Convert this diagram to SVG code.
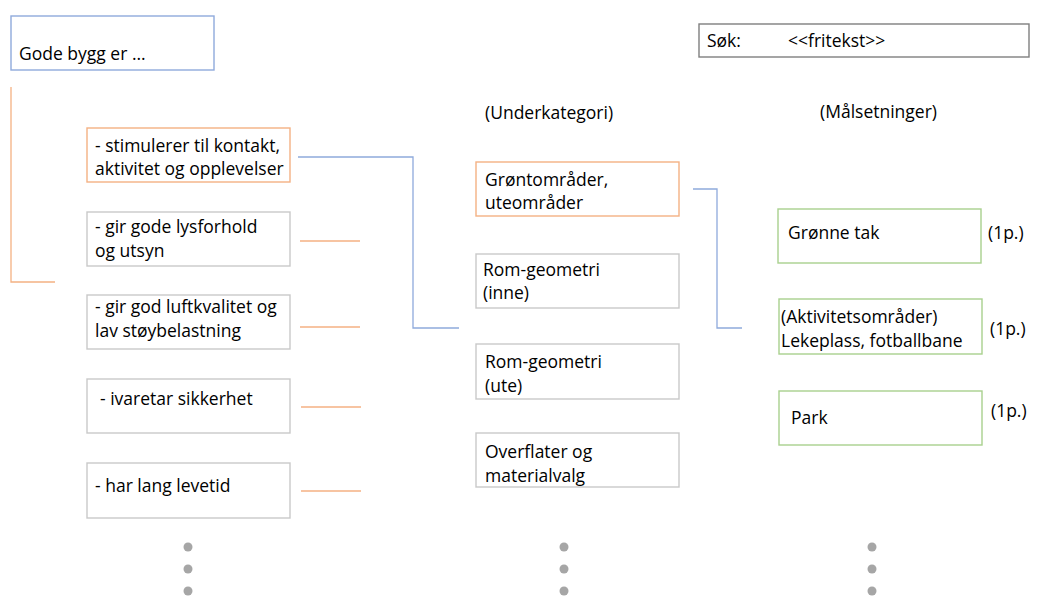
<svg xmlns="http://www.w3.org/2000/svg" width="1041" height="605" viewBox="0 0 1041 605">
<style>
text{font-family:"Open Sans","Noto Sans",sans-serif;font-size:17.5px;fill:#000;font-weight:500}
.box{fill:#fff;stroke:#c9c9c9;stroke-width:1.4}
.or{fill:#fff;stroke:#f4b183;stroke-width:1.4}
.bl{fill:#fff;stroke:#8faadc;stroke-width:1.4}
.gr{fill:#fff;stroke:#a9d18e;stroke-width:1.4}
.sr{fill:#fff;stroke:#7f7f7f;stroke-width:1.4}
.lo{fill:none;stroke:#f4b183;stroke-width:1.3}
.lb{fill:none;stroke:#8faadc;stroke-width:1.3}
.dot{fill:#a6a6a6}
</style>
<rect width="1041" height="605" fill="#fff"/>
<g id="connectors">
<path class="lo" d="M11,87 V282 H55"/>
<path class="lb" d="M298,157 H413 V328 H459"/>
<path class="lo" d="M300,241 H360"/>
<path class="lo" d="M300,327 H360"/>
<path class="lo" d="M301,407 H361"/>
<path class="lo" d="M301,491 H361"/>
<path class="lb" d="M693,189 H717 V328 H742"/>
</g>
<g id="gode"><rect class="bl" x="11" y="16" width="203" height="54"/><text x="19" y="60">Gode bygg er ...</text></g>
<g id="sok"><rect class="sr" x="699" y="24" width="330" height="33"/><text x="707" y="47">Søk:</text><text x="788" y="47">&lt;&lt;fritekst&gt;&gt;</text></g>
<g id="hdr-under"><text x="485" y="119">(Underkategori)</text></g>
<g id="hdr-mal"><text x="820" y="118">(Målsetninger)</text></g>
<g id="k1"><rect class="or" x="87" y="128" width="203" height="54"/><text x="95" y="152">- stimulerer til kontakt,</text><text x="95" y="175">aktivitet og opplevelser</text></g>
<g id="k2"><rect class="box" x="87" y="212" width="203" height="54"/><text x="95" y="233">- gir gode lysforhold</text><text x="95" y="257">og utsyn</text></g>
<g id="k3"><rect class="box" x="87" y="295" width="203" height="54"/><text x="95" y="313">- gir god luftkvalitet og</text><text x="95" y="337">lav støybelastning</text></g>
<g id="k4"><rect class="box" x="87" y="379" width="203" height="54"/><text x="100" y="405">- ivaretar sikkerhet</text></g>
<g id="k5"><rect class="box" x="87" y="463" width="203" height="55"/><text x="95" y="492">- har lang levetid</text></g>
<g id="u1"><rect class="or" x="476" y="162" width="203" height="54"/><text x="485" y="186">Grøntområder,</text><text x="485" y="209">uteområder</text></g>
<g id="u2"><rect class="box" x="476" y="254" width="203" height="54"/><text x="483" y="276">Rom-geometri</text><text x="483" y="299">(inne)</text></g>
<g id="u3"><rect class="box" x="476" y="344" width="203" height="55"/><text x="485" y="368">Rom-geometri</text><text x="485" y="392">(ute)</text></g>
<g id="u4"><rect class="box" x="476" y="433" width="203" height="54"/><text x="485" y="458">Overflater og</text><text x="485" y="482">materialvalg</text></g>
<g id="m1"><rect class="gr" x="778" y="209" width="203" height="54"/><text x="788" y="239">Grønne tak</text><text x="988" y="239">(1p.)</text></g>
<g id="m2"><rect class="gr" x="779" y="299" width="203" height="55"/><text x="781" y="323">(Aktivitetsområder)</text><text x="781" y="347">Lekeplass, fotballbane</text><text x="990" y="335">(1p.)</text></g>
<g id="m3"><rect class="gr" x="779" y="391" width="203" height="54"/><text x="791" y="424">Park</text><text x="991" y="417">(1p.)</text></g>
<g id="dots">
<circle class="dot" cx="188" cy="547" r="4.5"/><circle class="dot" cx="188" cy="569" r="4.5"/><circle class="dot" cx="188" cy="591" r="4.5"/>
<circle class="dot" cx="564" cy="547" r="4.5"/><circle class="dot" cx="564" cy="569" r="4.5"/><circle class="dot" cx="564" cy="591" r="4.5"/>
<circle class="dot" cx="872" cy="547" r="4.5"/><circle class="dot" cx="872" cy="569" r="4.5"/><circle class="dot" cx="872" cy="591" r="4.5"/>
</g>
</svg>
